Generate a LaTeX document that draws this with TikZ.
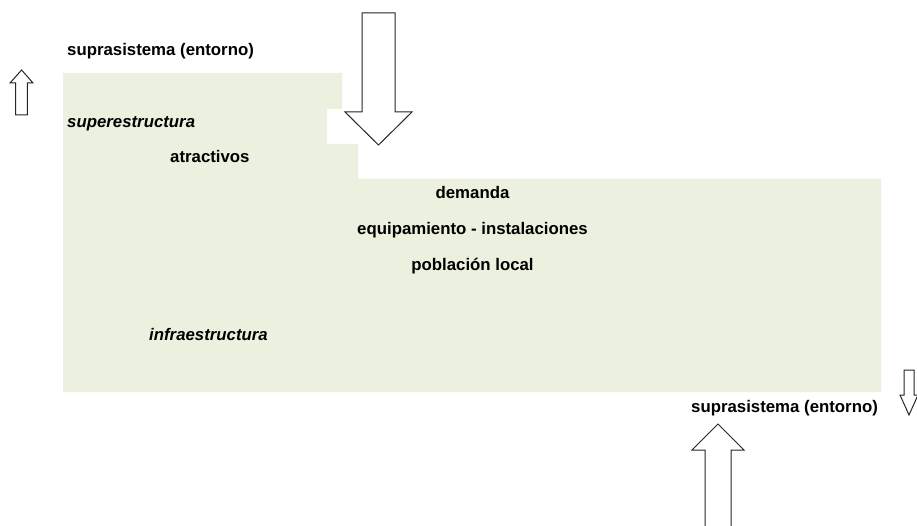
\documentclass[tikz,border=0pt]{standalone}
\usepackage{fontspec}
\setmainfont{Liberation Sans}
\begin{document}
\begin{tikzpicture}[x=1pt,y=-1pt,
  lbl/.style={inner sep=0pt,font=\fontsize{16.8}{20}\selectfont\bfseries,text=black},
  ilbl/.style={lbl,font=\fontsize{16.8}{20}\selectfont\bfseries\itshape},
  blockarrow/.style={draw=black!85,fill=white,line width=1pt,line join=miter}]
\definecolor{sysgreen}{HTML}{EBF1DE}
\useasboundingbox (0,0) rectangle (917,526);
% system area
\fill[sysgreen] (63,73) -- (342,73) -- (342,109) -- (327,109) -- (327,144) -- (358,144) -- (358,179) -- (881,179) -- (881,392) -- (63,392) -- cycle;
% big down arrow (input)
\draw[blockarrow] (362,13) -- (395,13) -- (395,112) -- (412,112) -- (378.5,145) -- (345,112) -- (362,112) -- cycle;
% big up arrow (bottom)
\draw[blockarrow] (705,530) -- (705,450) -- (692,450) -- (718,424) -- (744,450) -- (731,450) -- (731,530);
% small up arrow (top left)
\draw[blockarrow] (15.7,115) -- (15.7,83) -- (10,83) -- (21.6,70) -- (33,83) -- (27.3,83) -- (27.3,115) -- cycle;
% small down arrow (right)
\draw[blockarrow] (904,370) -- (914,370) -- (914,395) -- (918,395) -- (909,415) -- (900,395) -- (904,395) -- cycle;
% labels
\node[lbl,anchor=base west] (supTop) at (67,56) {suprasistema (entorno)};
\node[ilbl,anchor=base west] (superE) at (67,127.5) {superestructura};
\node[lbl,anchor=base west] (atrac) at (170,163) {atractivos};
\node[lbl,anchor=base] (dem) at (472.5,199) {demanda};
\node[lbl,anchor=base] (equip) at (472.5,235) {equipamiento - instalaciones};
\node[lbl,anchor=base] (pobl) at (472.5,271) {población local};
\node[ilbl,anchor=base west] (infraE) at (149,340) {infraestructura};
\node[lbl,anchor=base west] (supBot) at (691,412) {suprasistema (entorno)};
\end{tikzpicture}
\end{document}
